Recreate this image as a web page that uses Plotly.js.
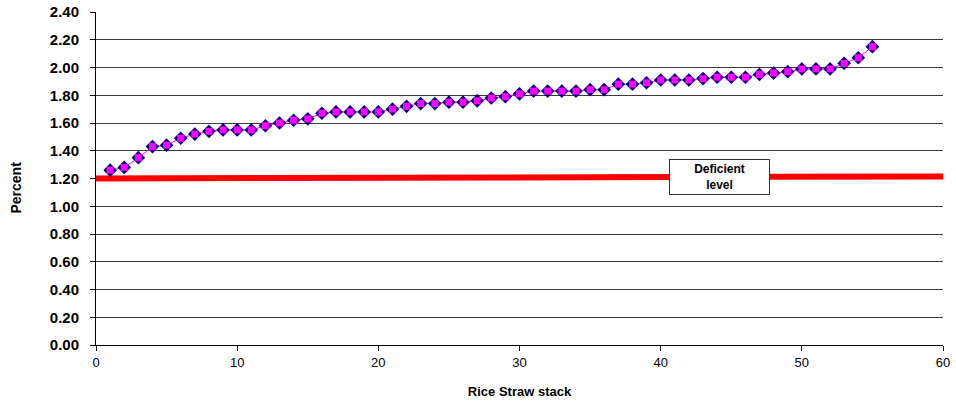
<!DOCTYPE html>
<html>
<head>
<meta charset="utf-8">
<script src="https://cdn.plot.ly/plotly-3.0.1.min.js"></script>
<style>html,body{margin:0;padding:0;background:#fff;}#chart{width:956px;height:404px;}</style>
</head>
<body>
<div id="chart"></div>
<script>
// Data
const stackNumber = [1,2,3,4,5,6,7,8,9,10,11,12,13,14,15,16,17,18,19,20,21,22,23,24,25,26,27,28,29,30,31,32,33,34,35,36,37,38,39,40,41,42,43,44,45,46,47,48,49,50,51,52,53,54,55];
const percentValues = [1.26,1.28,1.35,1.43,1.44,1.49,1.52,1.54,1.55,1.55,1.55,1.58,1.60,1.62,1.63,1.67,1.68,1.68,1.68,1.68,1.70,1.72,1.74,1.74,1.75,1.75,1.76,1.78,1.79,1.81,1.83,1.83,1.83,1.83,1.84,1.84,1.88,1.88,1.89,1.91,1.91,1.91,1.92,1.93,1.93,1.93,1.95,1.96,1.97,1.99,1.99,1.99,2.03,2.07,2.15];
const deficientX = [0, 60];
const deficientY = [1.20, 1.215];
const deficientLabel = "Deficient<br>level";
const yTicks = [0,0.2,0.4,0.6,0.8,1.0,1.2,1.4,1.6,1.8,2.0,2.2,2.4];
const xTicks = [0,10,20,30,40,50,60];

const FONT = "Liberation Sans, Arial, sans-serif";

const traces = [
  {
    x: deficientX, y: deficientY, type: 'scatter', mode: 'lines',
    line: {color: '#ff0000', width: 6}, hoverinfo: 'skip', showlegend: false
  },
  {
    x: stackNumber, y: percentValues, type: 'scatter', mode: 'lines+markers',
    line: {color: '#ff00ff', width: 1},
    marker: {symbol: 'diamond', size: 10.5, color: '#000080', line: {width: 0}},
    showlegend: false
  },
  {
    x: stackNumber, y: percentValues, type: 'scatter', mode: 'markers',
    marker: {symbol: 'square', size: 7, color: '#ff00ff', line: {width: 0}},
    showlegend: false, hoverinfo: 'skip'
  }
];

const layout = {
  width: 956, height: 404,
  margin: {l: 95.5, r: 13, t: 12, b: 59},
  paper_bgcolor: '#ffffff', plot_bgcolor: '#ffffff',
  showlegend: false,
  xaxis: {
    range: [0, 60], tickmode: 'array', tickvals: xTicks,
    ticks: 'outside', ticklen: 5, tickcolor: '#000', tickwidth: 1,
    showgrid: false, zeroline: false,
    showline: true, linecolor: '#000', linewidth: 1,
    tickfont: {family: FONT, size: 13, color: '#000'},
    title: {text: '<b>Rice Straw stack</b>', font: {family: FONT, size: 13, color: '#000'}, standoff: 18}
  },
  yaxis: {
    range: [0, 2.4], tickmode: 'array', tickvals: yTicks, tickformat: '.2f',
    ticks: 'outside', ticklen: 5, tickcolor: '#000', tickwidth: 1,
    ticklabelstandoff: 8,
    showgrid: true, gridcolor: '#3a3a3a', gridwidth: 1,
    zeroline: false,
    showline: true, linecolor: '#000', linewidth: 1,
    tickfont: {family: FONT, size: 15, color: '#000', weight: 'bold'}
  },
  annotations: [
    {
      x: 44.2, y: 1.214, xref: 'x', yref: 'y', text: '<b>' + deficientLabel + '</b>',
      showarrow: false, font: {family: FONT, size: 12, color: '#000'},
      bgcolor: '#ffffff', bordercolor: '#333333', borderwidth: 1, borderpad: 0,
      width: 99, height: 34, align: 'center'
    },
    {
      x: 15, y: 188, xref: 'paper', yref: 'paper', text: '<b>Percent</b>', textangle: -90,
      showarrow: false, font: {family: FONT, size: 14, color: '#000'}
    }
  ]
};
// position y-title annotation in pixels converted to paper coordinates
const plotW = 956 - 95.5 - 13, plotH = 404 - 12 - 59;
layout.annotations[1].x = (15 - 95.5) / plotW;
layout.annotations[1].y = (404 - 59 - 188) / plotH;
layout.annotations[1].xanchor = 'center';
layout.annotations[1].yanchor = 'middle';

Plotly.newPlot('chart', traces, layout, {displayModeBar: false, staticPlot: true});
</script>
</body>
</html>
